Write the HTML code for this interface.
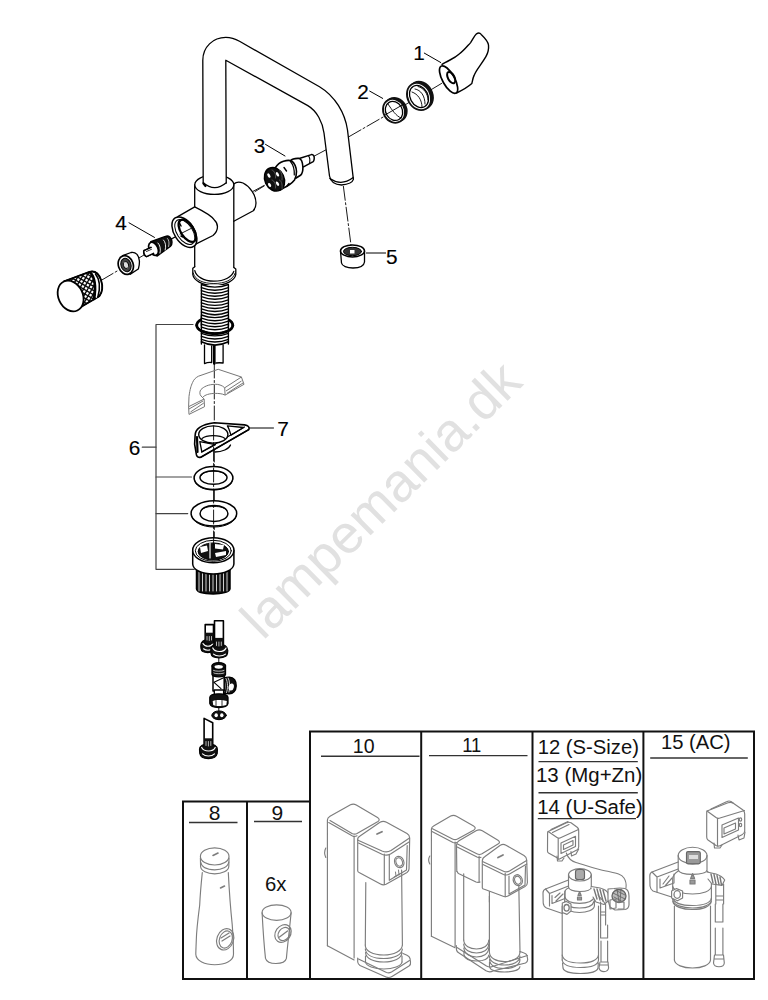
<!DOCTYPE html>
<html><head><meta charset="utf-8">
<style>
html,body{margin:0;padding:0;background:#fff;}
body{width:768px;height:1000px;overflow:hidden;}
svg{display:block;}
text{font-family:"Liberation Sans",sans-serif;}
</style></head><body>
<svg width="768" height="1000" viewBox="0 0 768 1000">
<rect width="768" height="1000" fill="#fff"/>
<text x="0" y="0" font-size="54" fill="#e1e1e1" transform="translate(263,641) rotate(-44.5)">lampemania.dk</text>
<g fill="none" stroke="#000" stroke-width="1.3" stroke-linejoin="round" stroke-linecap="round">
<g stroke-width="0.9" stroke-dasharray="14 2.5 2 2.5"><line x1="255" y1="191.6" x2="264.4" y2="185.8"/><line x1="314.4" y1="156" x2="326" y2="149.8"/><line x1="348.8" y1="136.8" x2="383.7" y2="116.7"/><line x1="404.6" y1="105.2" x2="409.8" y2="102"/><line x1="429.6" y1="90.6" x2="442.6" y2="82.8"/><line x1="253.3" y1="191.2" x2="264" y2="185.5"/><line x1="170" y1="239.4" x2="188" y2="230.5"/><line x1="171.7" y1="239" x2="174.8" y2="237.4"/><line x1="139.4" y1="257.7" x2="144" y2="255"/><line x1="101" y1="280.5" x2="118.7" y2="270.1"/><line x1="343.4" y1="186.4" x2="351" y2="245"/><line x1="214.3" y1="364" x2="214.3" y2="545"/><line x1="218.8" y1="657.3" x2="218.8" y2="662.8"/><line x1="218.8" y1="708" x2="218.8" y2="712"/></g>
<g stroke-width="1"><line x1="424.3" y1="53.1" x2="440.7" y2="62.5"/><line x1="369.7" y1="91.1" x2="382.7" y2="98.4"/><line x1="265.5" y1="144.4" x2="285" y2="156"/><line x1="129" y1="222.8" x2="154.5" y2="237.4"/><line x1="366.3" y1="253" x2="385.6" y2="253"/><line x1="249" y1="428" x2="273.5" y2="428"/><g stroke="#444" stroke-width="1.2"><polyline points="193,324.5 156,324.5 156,569.3 194.3,569.3"/><line x1="156" y1="477" x2="191.5" y2="477"/><line x1="156" y1="513.6" x2="187.7" y2="513.6"/><line x1="142.3" y1="447.2" x2="156" y2="447.2"/></g></g>
<path d="M233.8,184 C236,182 240,181.8 243,183 C250,186.5 256,195 256,203 C256,206.5 255,209 253.3,210.8 L233.8,221.2" fill="#fff"/><path d="M194.7,184.7 L194.7,268 M233.8,184.7 L233.8,268" /><ellipse cx="214.3" cy="184.7" rx="19.5" ry="9.75" fill="#fff"/><path d="M203.2,183 L202.8,60.2 C202.8,47 213,37.4 225.8,37.4 C231,37.4 235.5,39 239.5,41.3 L319.5,86.7 C335,96 345,113 347.5,130 L353.4,179.4 Q352,184 341.5,185 Q331,184.5 329.5,176 L324,133 C322.5,122 317,111 307.8,105.6 L225.8,60.2 L226.25,183 Z" fill="#fff" stroke="none"/><path d="M203.2,183 L202.8,60.2 C202.8,47 213,37.4 225.8,37.4 C231,37.4 235.5,39 239.5,41.3 L319.5,86.7 C335,96 345,113 347.5,130 L353.4,179.4 Q352,184 341.5,185 Q331,184.5 329.5,176 L324,133 C322.5,122 317,111 307.8,105.6 L225.8,60.2 L226.25,183"/><path d="M203.2,182.8 Q214.7,192.5 226.25,182.8" fill="#fff"/><path d="M329.8,178.5 Q341.5,186.5 353.2,177.5" stroke-width="1.2"/><path d="M203.5,183.5 l2,2.5" stroke-width="2.2"/><path d="M177.8,216.6 L194.7,206.9 C203,211 211,215 214.3,219.9 C218,223 219.5,230 213,235.5 L194.7,244.6 Z" fill="#fff" stroke="none"/><path d="M177.8,216.6 L194.7,206.9 C203,211 211,215 214.3,219.9 C218,223 219.5,230 213,235.5 L194.7,244.6"/><ellipse cx="184.4" cy="232.2" rx="10" ry="17" transform="rotate(-33 184.4 232.2)" fill="#fff" stroke-width="1.5"/><ellipse cx="184.8" cy="232" rx="7.8" ry="14" transform="rotate(-33 184.8 232)" stroke-width="1"/><ellipse cx="187.3" cy="230.8" rx="6.4" ry="12.6" transform="rotate(-33 187.3 230.8)" stroke-width="2.3"/><path d="M179.5,223 L181,226 M181,236 l2,1" stroke-width="1.5"/><line x1="180" y1="234" x2="191" y2="228.5" stroke-width="0.9"/><path d="M194.8,266.7 L192.8,268.3 L192.8,274.5 C193.5,280 202,285.5 213.9,285.5 C226,285.5 235,280 235.8,274.5 L235.8,269 L233.8,267.5" fill="#fff"/><path d="M194.8,270.6 C196,276 203,281.2 213.9,281.2 C225,281.2 232,276.5 233.8,271.4"/><path d="M193.2,273 C195,280 203,283.5 213.9,283.5 C225,283.5 233,280 235.2,273" stroke-width="0.9"/><rect x="201.4" y="285" width="27" height="59.5" fill="#fff" stroke="none"/><path d="M201.4,285 L201.4,344 M228.4,285 L228.4,344" stroke-width="1.4"/><path d="M196.7,325.3 A18,8.5 0 0 1 232.8,325.3" stroke-width="2.8"/><rect x="201.6" y="316" width="26.6" height="9" fill="#fff" stroke="none"/><path d="M201.4,316 L201.4,326 M228.4,316 L228.4,326" stroke-width="1.4"/><path d="M201.4,284.5 Q214.9,289.7 228.4,284.5" stroke-width="1.4"/><path d="M201.4,287.6 Q214.9,292.8 228.4,287.6" stroke-width="1.4"/><path d="M201.4,290.6 Q214.9,295.8 228.4,290.6" stroke-width="1.4"/><path d="M201.4,293.7 Q214.9,298.9 228.4,293.7" stroke-width="1.4"/><path d="M201.4,296.7 Q214.9,301.9 228.4,296.7" stroke-width="1.4"/><path d="M201.4,299.8 Q214.9,305.0 228.4,299.8" stroke-width="1.4"/><path d="M201.4,302.8 Q214.9,308.0 228.4,302.8" stroke-width="1.4"/><path d="M201.4,305.9 Q214.9,311.1 228.4,305.9" stroke-width="1.4"/><path d="M201.4,308.9 Q214.9,314.1 228.4,308.9" stroke-width="1.4"/><path d="M201.4,312.0 Q214.9,317.2 228.4,312.0" stroke-width="1.4"/><path d="M201.4,315.0 Q214.9,320.2 228.4,315.0" stroke-width="1.4"/><path d="M201.4,318.1 Q214.9,323.3 228.4,318.1" stroke-width="1.4"/><path d="M201.4,321.1 Q214.9,326.3 228.4,321.1" stroke-width="1.4"/><path d="M201.4,324.2 Q214.9,329.4 228.4,324.2" stroke-width="1.4"/><path d="M201.4,327.2 Q214.9,332.4 228.4,327.2" stroke-width="1.4"/><path d="M201.4,330.3 Q214.9,335.5 228.4,330.3" stroke-width="1.4"/><path d="M201.4,333.3 Q214.9,338.5 228.4,333.3" stroke-width="1.4"/><path d="M201.4,336.4 Q214.9,341.6 228.4,336.4" stroke-width="1.4"/><path d="M201.4,339.4 Q214.9,344.6 228.4,339.4" stroke-width="1.4"/><path d="M196.7,325.3 A18,8.5 0 0 0 232.8,325.3" stroke-width="2.8"/><path d="M201.4,341.8 Q214.9,348.5 228.4,341.8" stroke-width="1.6"/><path d="M198.5,328 A16.5,7 0 0 0 231,328" stroke-width="1"/><path d="M204.5,345 L204.5,363.6 Q208,362 211.7,362.5 M223.1,345 L223.1,363 Q219,362.5 216,363 M211.7,346 L211.7,362" fill="#fff"/><line x1="214.3" y1="346" x2="214.3" y2="363.6" stroke-width="2.6"/></g>
<g fill="none" stroke="#767676" stroke-width="1" stroke-linejoin="round"><path d="M189,414.4 L188.6,406.7 L189,396.4 C190,389 191,386 192.5,382.6 C194,379 196,377.5 198.5,376.2 L218.2,369.3 L241.4,377 L244,384.3 L225.1,395.1 L224.7,387.8 C222,385 218,384.3 215.7,384.3 C208,384.3 203.6,386.9 201,389.5 C199.5,391 199.5,394.5 201,396 L204.1,399 L204.5,406.7 Z"/><path d="M241.4,377 L224.7,387.8 M204.1,399 L188.6,406.7 M225.1,395.1 C222,393.5 218,393.4 215.7,393.4 C209,393.4 205,395 203,397"/><path d="M226,391 L241.5,381 M227,393.3 L243,383 M190.5,412 L203.8,403 M189,409 L203,401"/></g>
<g fill="none" stroke="#000" stroke-width="1.3" stroke-linejoin="round" stroke-linecap="round">
<path d="M442,64.4 C444,63 447,61.5 450,60 C454,58 456.5,56.5 458.9,54.3 C464,50.5 467,46.5 470.6,42.6 C473,39 474.5,35.5 476.5,33.8 C478.5,32.6 480,33 481.2,34.4 C485,38 488,41.5 488.5,45 C489,50 488,53 485.9,56.6 C481,65 476,70 474.1,75.4 C472.5,79 472.5,81 471.8,83.6 C468,87 462,90.5 456.6,93" fill="#fff" stroke-width="1.4"/><ellipse cx="448.6" cy="79.6" rx="6" ry="15.4" transform="rotate(-29 448.6 79.6)" fill="#fff" stroke-width="1.7"/><ellipse cx="451.2" cy="77.6" rx="3.2" ry="6.2" transform="rotate(-29 451.2 77.6)" stroke-width="2"/><ellipse cx="395.8" cy="109.7" rx="10.6" ry="12.3" transform="rotate(-30 395.8 109.7)" fill="#111" stroke="#111" stroke-width="1.6"/><ellipse cx="394" cy="110.9" rx="10.6" ry="12.3" transform="rotate(-30 394 110.9)" fill="#fff" stroke="#111" stroke-width="1.8"/><ellipse cx="394" cy="110.9" rx="8.3" ry="9.9" transform="rotate(-30 394 110.9)" stroke-width="1.3"/><path d="M388,104 C392,110 396,116 401,118 M385,115 L404,104" stroke-width="0.9"/><ellipse cx="421" cy="95.2" rx="11.4" ry="14.2" transform="rotate(-28 421 95.2)" fill="#111" stroke="#111" stroke-width="1.6"/><ellipse cx="419" cy="96.5" rx="11.4" ry="14.2" transform="rotate(-28 419 96.5)" fill="#fff" stroke="#111" stroke-width="1.8"/><ellipse cx="419" cy="96.5" rx="8.9" ry="11.6" transform="rotate(-28 419 96.5)" stroke-width="1.3"/><path d="M415,89 C421,90 425,96 425,104 M412,92 C418,94 422,100 422,107 M418,86.5 C424,88 428,94 428,100" stroke-width="0.9"/><path d="M300,158.2 L311.4,154.6 C313.5,154.2 314.5,156.5 314.2,158.8 C314,160.5 313.6,161.3 313.2,161.6 L303.5,166.8" fill="#fff" stroke-width="1.5"/><path d="M308.5,155.8 C310,157.5 310,161 309.5,163.5" stroke-width="1.1"/><path d="M290.5,160.8 C292,159 296,158.2 299.2,158.4 C301.5,159 302.6,162 302.9,167 C303,171 302,174 300.5,175.3 L295.7,178.2" fill="#fff" stroke-width="1.6"/><path d="M275.5,167.5 C277,165 280.5,162.2 283.5,161.2 C286.5,160.3 290,160.2 291.5,161 C294.5,162.5 296.4,167.5 296.5,171.5 C296.5,175 295.7,178 294.5,180 C292.5,182.5 288.5,185.7 283.5,188 L280,190" fill="#fff" stroke-width="1.6"/><path d="M290.5,161.5 C293,164.5 294.5,170 294.3,175" stroke-width="1.2"/><path d="M284,167.5 l2.5,3.5 M287,186 l2,-2.5" stroke-width="1.4"/><ellipse cx="274.5" cy="179.3" rx="9.6" ry="12.2" transform="rotate(-25 274.5 179.3)" fill="#111" stroke-width="1.5"/><g fill="#fff" stroke="none"><ellipse cx="268.9" cy="175.6" rx="1.3" ry="2.4" transform="rotate(-30 268.9 175.6)"/><ellipse cx="269.6" cy="185" rx="1.3" ry="2.2" transform="rotate(-30 269.6 185)"/><ellipse cx="277.5" cy="174.3" rx="1.3" ry="2.4" transform="rotate(-30 277.5 174.3)"/><ellipse cx="277.5" cy="183.7" rx="1.3" ry="2.4" transform="rotate(-30 277.5 183.7)"/></g><path d="M272,170 C275,171 276,175 275.5,178 M279.5,170.5 C282,172 282.5,177 282,180 M272,180 C275,181 276,185 275.5,188 M279.5,180 C282,181 282.5,186 282,189" stroke="#666" stroke-width="0.8"/><path d="M340.5,251 L341.5,263 C342,266 347,268 353,268 C359,268 364,266 364.5,262 L364.5,251" fill="#fff"/><ellipse cx="352.5" cy="250.9" rx="12" ry="6" fill="#fff" stroke-width="1.5"/><ellipse cx="352.5" cy="251.5" rx="9" ry="4.2" fill="#333" stroke-width="1"/><rect x="350" y="250" width="4.5" height="3.5" fill="#fff" stroke="none"/><path d="M150.8,241.6 L165.4,236.4 C169,235 171.5,238 171.9,241.5 C172.1,244 171.3,245.8 170.6,246.3 L157,256.1 Z" fill="#111" stroke-width="1.4"/><path d="M158,243 C160,245 161,249 160,253 M163.5,240 C165.5,242 166.2,246 165.2,250" stroke="#fff" stroke-width="0.9"/><path d="M167.5,238.5 C169,240 169.5,243 168.6,246.5" stroke="#fff" stroke-width="0.7"/><ellipse cx="153.5" cy="248.8" rx="4.3" ry="7" transform="rotate(-25 153.5 248.8)" fill="#fff" stroke-width="1.7"/><path d="M144,250.6 L151,247.4 M146.5,256.6 L153.5,253.4 M144,250.6 C143,252.5 144.5,256 146.5,256.6" fill="#fff" stroke-width="1.4"/><path d="M144.5,251 L151,248 L153.5,253.4 L146.5,256.5 Z" fill="#fff" stroke="none"/><path d="M144,250.6 L151,247.4 M146.5,256.6 L153.5,253.4 M144,250.6 C143,252.5 144.5,256 146.5,256.6" stroke-width="1.4"/><path d="M146.5,251.5 L151.5,249.3" stroke-width="0.8"/><path d="M122.7,255.6 L131,252.5 C135.5,251.5 139,255 139.4,261 C139.6,266 138.5,268 138.3,269 L130,274.4" fill="#fff"/><ellipse cx="125.8" cy="265" rx="7.4" ry="9.6" transform="rotate(-18 125.8 265)" fill="#fff" stroke-width="1.7"/><ellipse cx="126" cy="265" rx="5" ry="6.8" transform="rotate(-18 126 265)" fill="#444" stroke-width="1"/><ellipse cx="126" cy="265" rx="2.6" ry="3.6" transform="rotate(-18 126 265)" fill="#ddd" stroke-width="0.8"/><g font-size="20.8" fill="#000" stroke="#000" stroke-width="0.15"><text x="413.2" y="59.7">1</text><text x="357.2" y="98.6">2</text><text x="253.8" y="153">3</text><text x="115.3" y="229.9">4</text><text x="386" y="263.6">5</text><text x="128.8" y="454.7">6</text><text x="277.3" y="435.7">7</text></g><path d="M64.1,281.3 L89.5,271.8 C95,270.5 99,274 101,280 C103,286 102.5,292 99.3,296.3 L74.5,310.6 Z" fill="#fff"/><clipPath id="kc"><path d="M64.1,281.3 L89.5,271.8 C92,272 94,276 95,281 C96,287 96,293 93.5,299.5 L74.5,310.6 Z"/></clipPath><g clip-path="url(#kc)"><rect x="55" y="260" width="50" height="60" fill="#0a0a0a" stroke="none"/><rect x="36.64" y="267.79" width="2.3" height="2.3" fill="#fff" stroke="none" transform="rotate(30 37.79 268.94)"/><rect x="37.98" y="272.81" width="2.3" height="2.3" fill="#fff" stroke="none" transform="rotate(30 39.13 273.96)"/><rect x="39.33" y="277.83" width="2.3" height="2.3" fill="#fff" stroke="none" transform="rotate(30 40.48 278.98)"/><rect x="40.68" y="282.86" width="2.3" height="2.3" fill="#fff" stroke="none" transform="rotate(30 41.83 284.01)"/><rect x="42.02" y="287.88" width="2.3" height="2.3" fill="#fff" stroke="none" transform="rotate(30 43.17 289.03)"/><rect x="43.37" y="292.90" width="2.3" height="2.3" fill="#fff" stroke="none" transform="rotate(30 44.52 294.05)"/><rect x="44.71" y="297.93" width="2.3" height="2.3" fill="#fff" stroke="none" transform="rotate(30 45.86 299.08)"/><rect x="46.06" y="302.95" width="2.3" height="2.3" fill="#fff" stroke="none" transform="rotate(30 47.21 304.10)"/><rect x="47.40" y="307.97" width="2.3" height="2.3" fill="#fff" stroke="none" transform="rotate(30 48.55 309.12)"/><rect x="48.75" y="312.99" width="2.3" height="2.3" fill="#fff" stroke="none" transform="rotate(30 49.90 314.14)"/><rect x="50.10" y="318.02" width="2.3" height="2.3" fill="#fff" stroke="none" transform="rotate(30 51.25 319.17)"/><rect x="51.44" y="323.04" width="2.3" height="2.3" fill="#fff" stroke="none" transform="rotate(30 52.59 324.19)"/><rect x="52.79" y="328.06" width="2.3" height="2.3" fill="#fff" stroke="none" transform="rotate(30 53.94 329.21)"/><rect x="39.82" y="269.63" width="2.3" height="2.3" fill="#fff" stroke="none" transform="rotate(30 40.97 270.78)"/><rect x="41.17" y="274.65" width="2.3" height="2.3" fill="#fff" stroke="none" transform="rotate(30 42.32 275.80)"/><rect x="42.51" y="279.67" width="2.3" height="2.3" fill="#fff" stroke="none" transform="rotate(30 43.66 280.82)"/><rect x="43.86" y="284.70" width="2.3" height="2.3" fill="#fff" stroke="none" transform="rotate(30 45.01 285.85)"/><rect x="45.21" y="289.72" width="2.3" height="2.3" fill="#fff" stroke="none" transform="rotate(30 46.36 290.87)"/><rect x="46.55" y="294.74" width="2.3" height="2.3" fill="#fff" stroke="none" transform="rotate(30 47.70 295.89)"/><rect x="47.90" y="299.76" width="2.3" height="2.3" fill="#fff" stroke="none" transform="rotate(30 49.05 300.91)"/><rect x="49.24" y="304.79" width="2.3" height="2.3" fill="#fff" stroke="none" transform="rotate(30 50.39 305.94)"/><rect x="50.59" y="309.81" width="2.3" height="2.3" fill="#fff" stroke="none" transform="rotate(30 51.74 310.96)"/><rect x="51.94" y="314.83" width="2.3" height="2.3" fill="#fff" stroke="none" transform="rotate(30 53.09 315.98)"/><rect x="53.28" y="319.85" width="2.3" height="2.3" fill="#fff" stroke="none" transform="rotate(30 54.43 321.00)"/><rect x="54.63" y="324.88" width="2.3" height="2.3" fill="#fff" stroke="none" transform="rotate(30 55.78 326.03)"/><rect x="41.66" y="266.44" width="2.3" height="2.3" fill="#fff" stroke="none" transform="rotate(30 42.81 267.59)"/><rect x="43.01" y="271.47" width="2.3" height="2.3" fill="#fff" stroke="none" transform="rotate(30 44.16 272.62)"/><rect x="44.35" y="276.49" width="2.3" height="2.3" fill="#fff" stroke="none" transform="rotate(30 45.50 277.64)"/><rect x="45.70" y="281.51" width="2.3" height="2.3" fill="#fff" stroke="none" transform="rotate(30 46.85 282.66)"/><rect x="47.04" y="286.53" width="2.3" height="2.3" fill="#fff" stroke="none" transform="rotate(30 48.19 287.68)"/><rect x="48.39" y="291.56" width="2.3" height="2.3" fill="#fff" stroke="none" transform="rotate(30 49.54 292.71)"/><rect x="49.74" y="296.58" width="2.3" height="2.3" fill="#fff" stroke="none" transform="rotate(30 50.89 297.73)"/><rect x="51.08" y="301.60" width="2.3" height="2.3" fill="#fff" stroke="none" transform="rotate(30 52.23 302.75)"/><rect x="52.43" y="306.62" width="2.3" height="2.3" fill="#fff" stroke="none" transform="rotate(30 53.58 307.77)"/><rect x="53.77" y="311.65" width="2.3" height="2.3" fill="#fff" stroke="none" transform="rotate(30 54.92 312.80)"/><rect x="55.12" y="316.67" width="2.3" height="2.3" fill="#fff" stroke="none" transform="rotate(30 56.27 317.82)"/><rect x="56.47" y="321.69" width="2.3" height="2.3" fill="#fff" stroke="none" transform="rotate(30 57.62 322.84)"/><rect x="57.81" y="326.72" width="2.3" height="2.3" fill="#fff" stroke="none" transform="rotate(30 58.96 327.87)"/><rect x="44.85" y="268.28" width="2.3" height="2.3" fill="#fff" stroke="none" transform="rotate(30 46.00 269.43)"/><rect x="46.19" y="273.30" width="2.3" height="2.3" fill="#fff" stroke="none" transform="rotate(30 47.34 274.45)"/><rect x="47.54" y="278.33" width="2.3" height="2.3" fill="#fff" stroke="none" transform="rotate(30 48.69 279.48)"/><rect x="48.88" y="283.35" width="2.3" height="2.3" fill="#fff" stroke="none" transform="rotate(30 50.03 284.50)"/><rect x="50.23" y="288.37" width="2.3" height="2.3" fill="#fff" stroke="none" transform="rotate(30 51.38 289.52)"/><rect x="51.57" y="293.39" width="2.3" height="2.3" fill="#fff" stroke="none" transform="rotate(30 52.72 294.54)"/><rect x="52.92" y="298.42" width="2.3" height="2.3" fill="#fff" stroke="none" transform="rotate(30 54.07 299.57)"/><rect x="54.27" y="303.44" width="2.3" height="2.3" fill="#fff" stroke="none" transform="rotate(30 55.42 304.59)"/><rect x="55.61" y="308.46" width="2.3" height="2.3" fill="#fff" stroke="none" transform="rotate(30 56.76 309.61)"/><rect x="56.96" y="313.49" width="2.3" height="2.3" fill="#fff" stroke="none" transform="rotate(30 58.11 314.64)"/><rect x="58.30" y="318.51" width="2.3" height="2.3" fill="#fff" stroke="none" transform="rotate(30 59.45 319.66)"/><rect x="59.65" y="323.53" width="2.3" height="2.3" fill="#fff" stroke="none" transform="rotate(30 60.80 324.68)"/><rect x="46.68" y="265.10" width="2.3" height="2.3" fill="#fff" stroke="none" transform="rotate(30 47.83 266.25)"/><rect x="48.03" y="270.12" width="2.3" height="2.3" fill="#fff" stroke="none" transform="rotate(30 49.18 271.27)"/><rect x="49.38" y="275.14" width="2.3" height="2.3" fill="#fff" stroke="none" transform="rotate(30 50.53 276.29)"/><rect x="50.72" y="280.16" width="2.3" height="2.3" fill="#fff" stroke="none" transform="rotate(30 51.87 281.31)"/><rect x="52.07" y="285.19" width="2.3" height="2.3" fill="#fff" stroke="none" transform="rotate(30 53.22 286.34)"/><rect x="53.41" y="290.21" width="2.3" height="2.3" fill="#fff" stroke="none" transform="rotate(30 54.56 291.36)"/><rect x="54.76" y="295.23" width="2.3" height="2.3" fill="#fff" stroke="none" transform="rotate(30 55.91 296.38)"/><rect x="56.10" y="300.26" width="2.3" height="2.3" fill="#fff" stroke="none" transform="rotate(30 57.25 301.41)"/><rect x="57.45" y="305.28" width="2.3" height="2.3" fill="#fff" stroke="none" transform="rotate(30 58.60 306.43)"/><rect x="58.80" y="310.30" width="2.3" height="2.3" fill="#fff" stroke="none" transform="rotate(30 59.95 311.45)"/><rect x="60.14" y="315.32" width="2.3" height="2.3" fill="#fff" stroke="none" transform="rotate(30 61.29 316.47)"/><rect x="61.49" y="320.35" width="2.3" height="2.3" fill="#fff" stroke="none" transform="rotate(30 62.64 321.50)"/><rect x="62.83" y="325.37" width="2.3" height="2.3" fill="#fff" stroke="none" transform="rotate(30 63.98 326.52)"/><rect x="49.87" y="266.94" width="2.3" height="2.3" fill="#fff" stroke="none" transform="rotate(30 51.02 268.09)"/><rect x="51.21" y="271.96" width="2.3" height="2.3" fill="#fff" stroke="none" transform="rotate(30 52.36 273.11)"/><rect x="52.56" y="276.98" width="2.3" height="2.3" fill="#fff" stroke="none" transform="rotate(30 53.71 278.13)"/><rect x="53.91" y="282.00" width="2.3" height="2.3" fill="#fff" stroke="none" transform="rotate(30 55.06 283.15)"/><rect x="55.25" y="287.03" width="2.3" height="2.3" fill="#fff" stroke="none" transform="rotate(30 56.40 288.18)"/><rect x="56.60" y="292.05" width="2.3" height="2.3" fill="#fff" stroke="none" transform="rotate(30 57.75 293.20)"/><rect x="57.94" y="297.07" width="2.3" height="2.3" fill="#fff" stroke="none" transform="rotate(30 59.09 298.22)"/><rect x="59.29" y="302.09" width="2.3" height="2.3" fill="#fff" stroke="none" transform="rotate(30 60.44 303.24)"/><rect x="60.63" y="307.12" width="2.3" height="2.3" fill="#fff" stroke="none" transform="rotate(30 61.78 308.27)"/><rect x="61.98" y="312.14" width="2.3" height="2.3" fill="#fff" stroke="none" transform="rotate(30 63.13 313.29)"/><rect x="63.33" y="317.16" width="2.3" height="2.3" fill="#fff" stroke="none" transform="rotate(30 64.48 318.31)"/><rect x="64.67" y="322.19" width="2.3" height="2.3" fill="#fff" stroke="none" transform="rotate(30 65.82 323.34)"/><rect x="51.71" y="263.75" width="2.3" height="2.3" fill="#fff" stroke="none" transform="rotate(30 52.86 264.90)"/><rect x="53.05" y="268.77" width="2.3" height="2.3" fill="#fff" stroke="none" transform="rotate(30 54.20 269.92)"/><rect x="54.40" y="273.80" width="2.3" height="2.3" fill="#fff" stroke="none" transform="rotate(30 55.55 274.95)"/><rect x="55.74" y="278.82" width="2.3" height="2.3" fill="#fff" stroke="none" transform="rotate(30 56.89 279.97)"/><rect x="57.09" y="283.84" width="2.3" height="2.3" fill="#fff" stroke="none" transform="rotate(30 58.24 284.99)"/><rect x="58.44" y="288.86" width="2.3" height="2.3" fill="#fff" stroke="none" transform="rotate(30 59.59 290.01)"/><rect x="59.78" y="293.89" width="2.3" height="2.3" fill="#fff" stroke="none" transform="rotate(30 60.93 295.04)"/><rect x="61.13" y="298.91" width="2.3" height="2.3" fill="#fff" stroke="none" transform="rotate(30 62.28 300.06)"/><rect x="62.47" y="303.93" width="2.3" height="2.3" fill="#fff" stroke="none" transform="rotate(30 63.62 305.08)"/><rect x="63.82" y="308.96" width="2.3" height="2.3" fill="#fff" stroke="none" transform="rotate(30 64.97 310.11)"/><rect x="65.16" y="313.98" width="2.3" height="2.3" fill="#fff" stroke="none" transform="rotate(30 66.31 315.13)"/><rect x="66.51" y="319.00" width="2.3" height="2.3" fill="#fff" stroke="none" transform="rotate(30 67.66 320.15)"/><rect x="67.86" y="324.02" width="2.3" height="2.3" fill="#fff" stroke="none" transform="rotate(30 69.01 325.17)"/><rect x="54.89" y="265.59" width="2.3" height="2.3" fill="#fff" stroke="none" transform="rotate(30 56.04 266.74)"/><rect x="56.24" y="270.61" width="2.3" height="2.3" fill="#fff" stroke="none" transform="rotate(30 57.39 271.76)"/><rect x="57.58" y="275.63" width="2.3" height="2.3" fill="#fff" stroke="none" transform="rotate(30 58.73 276.78)"/><rect x="58.93" y="280.66" width="2.3" height="2.3" fill="#fff" stroke="none" transform="rotate(30 60.08 281.81)"/><rect x="60.27" y="285.68" width="2.3" height="2.3" fill="#fff" stroke="none" transform="rotate(30 61.42 286.83)"/><rect x="61.62" y="290.70" width="2.3" height="2.3" fill="#fff" stroke="none" transform="rotate(30 62.77 291.85)"/><rect x="62.97" y="295.73" width="2.3" height="2.3" fill="#fff" stroke="none" transform="rotate(30 64.12 296.88)"/><rect x="64.31" y="300.75" width="2.3" height="2.3" fill="#fff" stroke="none" transform="rotate(30 65.46 301.90)"/><rect x="65.66" y="305.77" width="2.3" height="2.3" fill="#fff" stroke="none" transform="rotate(30 66.81 306.92)"/><rect x="67.00" y="310.79" width="2.3" height="2.3" fill="#fff" stroke="none" transform="rotate(30 68.15 311.94)"/><rect x="68.35" y="315.82" width="2.3" height="2.3" fill="#fff" stroke="none" transform="rotate(30 69.50 316.97)"/><rect x="69.70" y="320.84" width="2.3" height="2.3" fill="#fff" stroke="none" transform="rotate(30 70.85 321.99)"/><rect x="56.73" y="262.40" width="2.3" height="2.3" fill="#fff" stroke="none" transform="rotate(30 57.88 263.55)"/><rect x="58.08" y="267.43" width="2.3" height="2.3" fill="#fff" stroke="none" transform="rotate(30 59.23 268.58)"/><rect x="59.42" y="272.45" width="2.3" height="2.3" fill="#fff" stroke="none" transform="rotate(30 60.57 273.60)"/><rect x="60.77" y="277.47" width="2.3" height="2.3" fill="#fff" stroke="none" transform="rotate(30 61.92 278.62)"/><rect x="62.11" y="282.50" width="2.3" height="2.3" fill="#fff" stroke="none" transform="rotate(30 63.26 283.65)"/><rect x="63.46" y="287.52" width="2.3" height="2.3" fill="#fff" stroke="none" transform="rotate(30 64.61 288.67)"/><rect x="64.80" y="292.54" width="2.3" height="2.3" fill="#fff" stroke="none" transform="rotate(30 65.95 293.69)"/><rect x="66.15" y="297.56" width="2.3" height="2.3" fill="#fff" stroke="none" transform="rotate(30 67.30 298.71)"/><rect x="67.50" y="302.59" width="2.3" height="2.3" fill="#fff" stroke="none" transform="rotate(30 68.65 303.74)"/><rect x="68.84" y="307.61" width="2.3" height="2.3" fill="#fff" stroke="none" transform="rotate(30 69.99 308.76)"/><rect x="70.19" y="312.63" width="2.3" height="2.3" fill="#fff" stroke="none" transform="rotate(30 71.34 313.78)"/><rect x="71.53" y="317.66" width="2.3" height="2.3" fill="#fff" stroke="none" transform="rotate(30 72.68 318.81)"/><rect x="72.88" y="322.68" width="2.3" height="2.3" fill="#fff" stroke="none" transform="rotate(30 74.03 323.83)"/><rect x="59.91" y="264.24" width="2.3" height="2.3" fill="#fff" stroke="none" transform="rotate(30 61.06 265.39)"/><rect x="61.26" y="269.27" width="2.3" height="2.3" fill="#fff" stroke="none" transform="rotate(30 62.41 270.42)"/><rect x="62.61" y="274.29" width="2.3" height="2.3" fill="#fff" stroke="none" transform="rotate(30 63.76 275.44)"/><rect x="63.95" y="279.31" width="2.3" height="2.3" fill="#fff" stroke="none" transform="rotate(30 65.10 280.46)"/><rect x="65.30" y="284.33" width="2.3" height="2.3" fill="#fff" stroke="none" transform="rotate(30 66.45 285.48)"/><rect x="66.64" y="289.36" width="2.3" height="2.3" fill="#fff" stroke="none" transform="rotate(30 67.79 290.51)"/><rect x="67.99" y="294.38" width="2.3" height="2.3" fill="#fff" stroke="none" transform="rotate(30 69.14 295.53)"/><rect x="69.33" y="299.40" width="2.3" height="2.3" fill="#fff" stroke="none" transform="rotate(30 70.48 300.55)"/><rect x="70.68" y="304.43" width="2.3" height="2.3" fill="#fff" stroke="none" transform="rotate(30 71.83 305.58)"/><rect x="72.03" y="309.45" width="2.3" height="2.3" fill="#fff" stroke="none" transform="rotate(30 73.18 310.60)"/><rect x="73.37" y="314.47" width="2.3" height="2.3" fill="#fff" stroke="none" transform="rotate(30 74.52 315.62)"/><rect x="74.72" y="319.49" width="2.3" height="2.3" fill="#fff" stroke="none" transform="rotate(30 75.87 320.64)"/><rect x="61.75" y="261.06" width="2.3" height="2.3" fill="#fff" stroke="none" transform="rotate(30 62.90 262.21)"/><rect x="63.10" y="266.08" width="2.3" height="2.3" fill="#fff" stroke="none" transform="rotate(30 64.25 267.23)"/><rect x="64.44" y="271.10" width="2.3" height="2.3" fill="#fff" stroke="none" transform="rotate(30 65.59 272.25)"/><rect x="65.79" y="276.13" width="2.3" height="2.3" fill="#fff" stroke="none" transform="rotate(30 66.94 277.28)"/><rect x="67.14" y="281.15" width="2.3" height="2.3" fill="#fff" stroke="none" transform="rotate(30 68.29 282.30)"/><rect x="68.48" y="286.17" width="2.3" height="2.3" fill="#fff" stroke="none" transform="rotate(30 69.63 287.32)"/><rect x="69.83" y="291.20" width="2.3" height="2.3" fill="#fff" stroke="none" transform="rotate(30 70.98 292.35)"/><rect x="71.17" y="296.22" width="2.3" height="2.3" fill="#fff" stroke="none" transform="rotate(30 72.32 297.37)"/><rect x="72.52" y="301.24" width="2.3" height="2.3" fill="#fff" stroke="none" transform="rotate(30 73.67 302.39)"/><rect x="73.86" y="306.26" width="2.3" height="2.3" fill="#fff" stroke="none" transform="rotate(30 75.01 307.41)"/><rect x="75.21" y="311.29" width="2.3" height="2.3" fill="#fff" stroke="none" transform="rotate(30 76.36 312.44)"/><rect x="76.56" y="316.31" width="2.3" height="2.3" fill="#fff" stroke="none" transform="rotate(30 77.71 317.46)"/><rect x="77.90" y="321.33" width="2.3" height="2.3" fill="#fff" stroke="none" transform="rotate(30 79.05 322.48)"/><rect x="64.94" y="262.90" width="2.3" height="2.3" fill="#fff" stroke="none" transform="rotate(30 66.09 264.05)"/><rect x="66.28" y="267.92" width="2.3" height="2.3" fill="#fff" stroke="none" transform="rotate(30 67.43 269.07)"/><rect x="67.63" y="272.94" width="2.3" height="2.3" fill="#fff" stroke="none" transform="rotate(30 68.78 274.09)"/><rect x="68.97" y="277.97" width="2.3" height="2.3" fill="#fff" stroke="none" transform="rotate(30 70.12 279.12)"/><rect x="70.32" y="282.99" width="2.3" height="2.3" fill="#fff" stroke="none" transform="rotate(30 71.47 284.14)"/><rect x="71.67" y="288.01" width="2.3" height="2.3" fill="#fff" stroke="none" transform="rotate(30 72.82 289.16)"/><rect x="73.01" y="293.03" width="2.3" height="2.3" fill="#fff" stroke="none" transform="rotate(30 74.16 294.18)"/><rect x="74.36" y="298.06" width="2.3" height="2.3" fill="#fff" stroke="none" transform="rotate(30 75.51 299.21)"/><rect x="75.70" y="303.08" width="2.3" height="2.3" fill="#fff" stroke="none" transform="rotate(30 76.85 304.23)"/><rect x="77.05" y="308.10" width="2.3" height="2.3" fill="#fff" stroke="none" transform="rotate(30 78.20 309.25)"/><rect x="78.39" y="313.13" width="2.3" height="2.3" fill="#fff" stroke="none" transform="rotate(30 79.54 314.28)"/><rect x="79.74" y="318.15" width="2.3" height="2.3" fill="#fff" stroke="none" transform="rotate(30 80.89 319.30)"/><rect x="66.77" y="259.71" width="2.3" height="2.3" fill="#fff" stroke="none" transform="rotate(30 67.92 260.86)"/><rect x="68.12" y="264.74" width="2.3" height="2.3" fill="#fff" stroke="none" transform="rotate(30 69.27 265.89)"/><rect x="69.47" y="269.76" width="2.3" height="2.3" fill="#fff" stroke="none" transform="rotate(30 70.62 270.91)"/><rect x="70.81" y="274.78" width="2.3" height="2.3" fill="#fff" stroke="none" transform="rotate(30 71.96 275.93)"/><rect x="72.16" y="279.80" width="2.3" height="2.3" fill="#fff" stroke="none" transform="rotate(30 73.31 280.95)"/><rect x="73.50" y="284.83" width="2.3" height="2.3" fill="#fff" stroke="none" transform="rotate(30 74.65 285.98)"/><rect x="74.85" y="289.85" width="2.3" height="2.3" fill="#fff" stroke="none" transform="rotate(30 76.00 291.00)"/><rect x="76.20" y="294.87" width="2.3" height="2.3" fill="#fff" stroke="none" transform="rotate(30 77.35 296.02)"/><rect x="77.54" y="299.90" width="2.3" height="2.3" fill="#fff" stroke="none" transform="rotate(30 78.69 301.05)"/><rect x="78.89" y="304.92" width="2.3" height="2.3" fill="#fff" stroke="none" transform="rotate(30 80.04 306.07)"/><rect x="80.23" y="309.94" width="2.3" height="2.3" fill="#fff" stroke="none" transform="rotate(30 81.38 311.09)"/><rect x="81.58" y="314.96" width="2.3" height="2.3" fill="#fff" stroke="none" transform="rotate(30 82.73 316.11)"/><rect x="82.93" y="319.99" width="2.3" height="2.3" fill="#fff" stroke="none" transform="rotate(30 84.08 321.14)"/><rect x="69.96" y="261.55" width="2.3" height="2.3" fill="#fff" stroke="none" transform="rotate(30 71.11 262.70)"/><rect x="71.31" y="266.57" width="2.3" height="2.3" fill="#fff" stroke="none" transform="rotate(30 72.46 267.72)"/><rect x="72.65" y="271.60" width="2.3" height="2.3" fill="#fff" stroke="none" transform="rotate(30 73.80 272.75)"/><rect x="74.00" y="276.62" width="2.3" height="2.3" fill="#fff" stroke="none" transform="rotate(30 75.15 277.77)"/><rect x="75.34" y="281.64" width="2.3" height="2.3" fill="#fff" stroke="none" transform="rotate(30 76.49 282.79)"/><rect x="76.69" y="286.67" width="2.3" height="2.3" fill="#fff" stroke="none" transform="rotate(30 77.84 287.82)"/><rect x="78.03" y="291.69" width="2.3" height="2.3" fill="#fff" stroke="none" transform="rotate(30 79.18 292.84)"/><rect x="79.38" y="296.71" width="2.3" height="2.3" fill="#fff" stroke="none" transform="rotate(30 80.53 297.86)"/><rect x="80.73" y="301.73" width="2.3" height="2.3" fill="#fff" stroke="none" transform="rotate(30 81.88 302.88)"/><rect x="82.07" y="306.76" width="2.3" height="2.3" fill="#fff" stroke="none" transform="rotate(30 83.22 307.91)"/><rect x="83.42" y="311.78" width="2.3" height="2.3" fill="#fff" stroke="none" transform="rotate(30 84.57 312.93)"/><rect x="84.76" y="316.80" width="2.3" height="2.3" fill="#fff" stroke="none" transform="rotate(30 85.91 317.95)"/><rect x="71.80" y="258.37" width="2.3" height="2.3" fill="#fff" stroke="none" transform="rotate(30 72.95 259.52)"/><rect x="73.14" y="263.39" width="2.3" height="2.3" fill="#fff" stroke="none" transform="rotate(30 74.29 264.54)"/><rect x="74.49" y="268.41" width="2.3" height="2.3" fill="#fff" stroke="none" transform="rotate(30 75.64 269.56)"/><rect x="75.84" y="273.44" width="2.3" height="2.3" fill="#fff" stroke="none" transform="rotate(30 76.99 274.59)"/><rect x="77.18" y="278.46" width="2.3" height="2.3" fill="#fff" stroke="none" transform="rotate(30 78.33 279.61)"/><rect x="78.53" y="283.48" width="2.3" height="2.3" fill="#fff" stroke="none" transform="rotate(30 79.68 284.63)"/><rect x="79.87" y="288.50" width="2.3" height="2.3" fill="#fff" stroke="none" transform="rotate(30 81.02 289.65)"/><rect x="81.22" y="293.53" width="2.3" height="2.3" fill="#fff" stroke="none" transform="rotate(30 82.37 294.68)"/><rect x="82.56" y="298.55" width="2.3" height="2.3" fill="#fff" stroke="none" transform="rotate(30 83.71 299.70)"/><rect x="83.91" y="303.57" width="2.3" height="2.3" fill="#fff" stroke="none" transform="rotate(30 85.06 304.72)"/><rect x="85.26" y="308.60" width="2.3" height="2.3" fill="#fff" stroke="none" transform="rotate(30 86.41 309.75)"/><rect x="86.60" y="313.62" width="2.3" height="2.3" fill="#fff" stroke="none" transform="rotate(30 87.75 314.77)"/><rect x="87.95" y="318.64" width="2.3" height="2.3" fill="#fff" stroke="none" transform="rotate(30 89.10 319.79)"/><rect x="74.98" y="260.21" width="2.3" height="2.3" fill="#fff" stroke="none" transform="rotate(30 76.13 261.36)"/><rect x="76.33" y="265.23" width="2.3" height="2.3" fill="#fff" stroke="none" transform="rotate(30 77.48 266.38)"/><rect x="77.67" y="270.25" width="2.3" height="2.3" fill="#fff" stroke="none" transform="rotate(30 78.82 271.40)"/><rect x="79.02" y="275.27" width="2.3" height="2.3" fill="#fff" stroke="none" transform="rotate(30 80.17 276.42)"/><rect x="80.37" y="280.30" width="2.3" height="2.3" fill="#fff" stroke="none" transform="rotate(30 81.52 281.45)"/><rect x="81.71" y="285.32" width="2.3" height="2.3" fill="#fff" stroke="none" transform="rotate(30 82.86 286.47)"/><rect x="83.06" y="290.34" width="2.3" height="2.3" fill="#fff" stroke="none" transform="rotate(30 84.21 291.49)"/><rect x="84.40" y="295.37" width="2.3" height="2.3" fill="#fff" stroke="none" transform="rotate(30 85.55 296.52)"/><rect x="85.75" y="300.39" width="2.3" height="2.3" fill="#fff" stroke="none" transform="rotate(30 86.90 301.54)"/><rect x="87.09" y="305.41" width="2.3" height="2.3" fill="#fff" stroke="none" transform="rotate(30 88.24 306.56)"/><rect x="88.44" y="310.43" width="2.3" height="2.3" fill="#fff" stroke="none" transform="rotate(30 89.59 311.58)"/><rect x="89.79" y="315.46" width="2.3" height="2.3" fill="#fff" stroke="none" transform="rotate(30 90.94 316.61)"/><rect x="76.82" y="257.02" width="2.3" height="2.3" fill="#fff" stroke="none" transform="rotate(30 77.97 258.17)"/><rect x="78.17" y="262.04" width="2.3" height="2.3" fill="#fff" stroke="none" transform="rotate(30 79.32 263.19)"/><rect x="79.51" y="267.07" width="2.3" height="2.3" fill="#fff" stroke="none" transform="rotate(30 80.66 268.22)"/><rect x="80.86" y="272.09" width="2.3" height="2.3" fill="#fff" stroke="none" transform="rotate(30 82.01 273.24)"/><rect x="82.20" y="277.11" width="2.3" height="2.3" fill="#fff" stroke="none" transform="rotate(30 83.35 278.26)"/><rect x="83.55" y="282.14" width="2.3" height="2.3" fill="#fff" stroke="none" transform="rotate(30 84.70 283.29)"/><rect x="84.90" y="287.16" width="2.3" height="2.3" fill="#fff" stroke="none" transform="rotate(30 86.05 288.31)"/><rect x="86.24" y="292.18" width="2.3" height="2.3" fill="#fff" stroke="none" transform="rotate(30 87.39 293.33)"/><rect x="87.59" y="297.20" width="2.3" height="2.3" fill="#fff" stroke="none" transform="rotate(30 88.74 298.35)"/><rect x="88.93" y="302.23" width="2.3" height="2.3" fill="#fff" stroke="none" transform="rotate(30 90.08 303.38)"/><rect x="90.28" y="307.25" width="2.3" height="2.3" fill="#fff" stroke="none" transform="rotate(30 91.43 308.40)"/><rect x="91.62" y="312.27" width="2.3" height="2.3" fill="#fff" stroke="none" transform="rotate(30 92.77 313.42)"/><rect x="92.97" y="317.30" width="2.3" height="2.3" fill="#fff" stroke="none" transform="rotate(30 94.12 318.45)"/><rect x="80.00" y="258.86" width="2.3" height="2.3" fill="#fff" stroke="none" transform="rotate(30 81.15 260.01)"/><rect x="81.35" y="263.88" width="2.3" height="2.3" fill="#fff" stroke="none" transform="rotate(30 82.50 265.03)"/><rect x="82.70" y="268.91" width="2.3" height="2.3" fill="#fff" stroke="none" transform="rotate(30 83.85 270.06)"/><rect x="84.04" y="273.93" width="2.3" height="2.3" fill="#fff" stroke="none" transform="rotate(30 85.19 275.08)"/><rect x="85.39" y="278.95" width="2.3" height="2.3" fill="#fff" stroke="none" transform="rotate(30 86.54 280.10)"/><rect x="86.73" y="283.97" width="2.3" height="2.3" fill="#fff" stroke="none" transform="rotate(30 87.88 285.12)"/><rect x="88.08" y="289.00" width="2.3" height="2.3" fill="#fff" stroke="none" transform="rotate(30 89.23 290.15)"/><rect x="89.43" y="294.02" width="2.3" height="2.3" fill="#fff" stroke="none" transform="rotate(30 90.58 295.17)"/><rect x="90.77" y="299.04" width="2.3" height="2.3" fill="#fff" stroke="none" transform="rotate(30 91.92 300.19)"/><rect x="92.12" y="304.07" width="2.3" height="2.3" fill="#fff" stroke="none" transform="rotate(30 93.27 305.22)"/><rect x="93.46" y="309.09" width="2.3" height="2.3" fill="#fff" stroke="none" transform="rotate(30 94.61 310.24)"/><rect x="94.81" y="314.11" width="2.3" height="2.3" fill="#fff" stroke="none" transform="rotate(30 95.96 315.26)"/><rect x="81.84" y="255.68" width="2.3" height="2.3" fill="#fff" stroke="none" transform="rotate(30 82.99 256.83)"/><rect x="83.19" y="260.70" width="2.3" height="2.3" fill="#fff" stroke="none" transform="rotate(30 84.34 261.85)"/><rect x="84.54" y="265.72" width="2.3" height="2.3" fill="#fff" stroke="none" transform="rotate(30 85.69 266.87)"/><rect x="85.88" y="270.74" width="2.3" height="2.3" fill="#fff" stroke="none" transform="rotate(30 87.03 271.89)"/><rect x="87.23" y="275.77" width="2.3" height="2.3" fill="#fff" stroke="none" transform="rotate(30 88.38 276.92)"/><rect x="88.57" y="280.79" width="2.3" height="2.3" fill="#fff" stroke="none" transform="rotate(30 89.72 281.94)"/><rect x="89.92" y="285.81" width="2.3" height="2.3" fill="#fff" stroke="none" transform="rotate(30 91.07 286.96)"/><rect x="91.26" y="290.84" width="2.3" height="2.3" fill="#fff" stroke="none" transform="rotate(30 92.41 291.99)"/><rect x="92.61" y="295.86" width="2.3" height="2.3" fill="#fff" stroke="none" transform="rotate(30 93.76 297.01)"/><rect x="93.96" y="300.88" width="2.3" height="2.3" fill="#fff" stroke="none" transform="rotate(30 95.11 302.03)"/><rect x="95.30" y="305.90" width="2.3" height="2.3" fill="#fff" stroke="none" transform="rotate(30 96.45 307.05)"/><rect x="96.65" y="310.93" width="2.3" height="2.3" fill="#fff" stroke="none" transform="rotate(30 97.80 312.08)"/><rect x="97.99" y="315.95" width="2.3" height="2.3" fill="#fff" stroke="none" transform="rotate(30 99.14 317.10)"/><rect x="85.03" y="257.51" width="2.3" height="2.3" fill="#fff" stroke="none" transform="rotate(30 86.18 258.66)"/><rect x="86.37" y="262.54" width="2.3" height="2.3" fill="#fff" stroke="none" transform="rotate(30 87.52 263.69)"/><rect x="87.72" y="267.56" width="2.3" height="2.3" fill="#fff" stroke="none" transform="rotate(30 88.87 268.71)"/><rect x="89.07" y="272.58" width="2.3" height="2.3" fill="#fff" stroke="none" transform="rotate(30 90.22 273.73)"/><rect x="90.41" y="277.61" width="2.3" height="2.3" fill="#fff" stroke="none" transform="rotate(30 91.56 278.76)"/><rect x="91.76" y="282.63" width="2.3" height="2.3" fill="#fff" stroke="none" transform="rotate(30 92.91 283.78)"/><rect x="93.10" y="287.65" width="2.3" height="2.3" fill="#fff" stroke="none" transform="rotate(30 94.25 288.80)"/><rect x="94.45" y="292.67" width="2.3" height="2.3" fill="#fff" stroke="none" transform="rotate(30 95.60 293.82)"/><rect x="95.79" y="297.70" width="2.3" height="2.3" fill="#fff" stroke="none" transform="rotate(30 96.94 298.85)"/><rect x="97.14" y="302.72" width="2.3" height="2.3" fill="#fff" stroke="none" transform="rotate(30 98.29 303.87)"/><rect x="98.49" y="307.74" width="2.3" height="2.3" fill="#fff" stroke="none" transform="rotate(30 99.64 308.89)"/><rect x="99.83" y="312.76" width="2.3" height="2.3" fill="#fff" stroke="none" transform="rotate(30 100.98 313.91)"/><rect x="86.87" y="254.33" width="2.3" height="2.3" fill="#fff" stroke="none" transform="rotate(30 88.02 255.48)"/><rect x="88.21" y="259.35" width="2.3" height="2.3" fill="#fff" stroke="none" transform="rotate(30 89.36 260.50)"/><rect x="89.56" y="264.38" width="2.3" height="2.3" fill="#fff" stroke="none" transform="rotate(30 90.71 265.53)"/><rect x="90.90" y="269.40" width="2.3" height="2.3" fill="#fff" stroke="none" transform="rotate(30 92.05 270.55)"/><rect x="92.25" y="274.42" width="2.3" height="2.3" fill="#fff" stroke="none" transform="rotate(30 93.40 275.57)"/><rect x="93.60" y="279.44" width="2.3" height="2.3" fill="#fff" stroke="none" transform="rotate(30 94.75 280.59)"/><rect x="94.94" y="284.47" width="2.3" height="2.3" fill="#fff" stroke="none" transform="rotate(30 96.09 285.62)"/><rect x="96.29" y="289.49" width="2.3" height="2.3" fill="#fff" stroke="none" transform="rotate(30 97.44 290.64)"/><rect x="97.63" y="294.51" width="2.3" height="2.3" fill="#fff" stroke="none" transform="rotate(30 98.78 295.66)"/><rect x="98.98" y="299.54" width="2.3" height="2.3" fill="#fff" stroke="none" transform="rotate(30 100.13 300.69)"/><rect x="100.32" y="304.56" width="2.3" height="2.3" fill="#fff" stroke="none" transform="rotate(30 101.47 305.71)"/><rect x="101.67" y="309.58" width="2.3" height="2.3" fill="#fff" stroke="none" transform="rotate(30 102.82 310.73)"/><rect x="103.02" y="314.60" width="2.3" height="2.3" fill="#fff" stroke="none" transform="rotate(30 104.17 315.75)"/><rect x="90.05" y="256.17" width="2.3" height="2.3" fill="#fff" stroke="none" transform="rotate(30 91.20 257.32)"/><rect x="91.40" y="261.19" width="2.3" height="2.3" fill="#fff" stroke="none" transform="rotate(30 92.55 262.34)"/><rect x="92.74" y="266.21" width="2.3" height="2.3" fill="#fff" stroke="none" transform="rotate(30 93.89 267.36)"/><rect x="94.09" y="271.24" width="2.3" height="2.3" fill="#fff" stroke="none" transform="rotate(30 95.24 272.39)"/><rect x="95.43" y="276.26" width="2.3" height="2.3" fill="#fff" stroke="none" transform="rotate(30 96.58 277.41)"/><rect x="96.78" y="281.28" width="2.3" height="2.3" fill="#fff" stroke="none" transform="rotate(30 97.93 282.43)"/><rect x="98.13" y="286.31" width="2.3" height="2.3" fill="#fff" stroke="none" transform="rotate(30 99.28 287.46)"/><rect x="99.47" y="291.33" width="2.3" height="2.3" fill="#fff" stroke="none" transform="rotate(30 100.62 292.48)"/><rect x="100.82" y="296.35" width="2.3" height="2.3" fill="#fff" stroke="none" transform="rotate(30 101.97 297.50)"/><rect x="102.16" y="301.37" width="2.3" height="2.3" fill="#fff" stroke="none" transform="rotate(30 103.31 302.52)"/><rect x="103.51" y="306.40" width="2.3" height="2.3" fill="#fff" stroke="none" transform="rotate(30 104.66 307.55)"/><rect x="104.85" y="311.42" width="2.3" height="2.3" fill="#fff" stroke="none" transform="rotate(30 106.00 312.57)"/><rect x="91.89" y="252.98" width="2.3" height="2.3" fill="#fff" stroke="none" transform="rotate(30 93.04 254.13)"/><rect x="93.23" y="258.01" width="2.3" height="2.3" fill="#fff" stroke="none" transform="rotate(30 94.38 259.16)"/><rect x="94.58" y="263.03" width="2.3" height="2.3" fill="#fff" stroke="none" transform="rotate(30 95.73 264.18)"/><rect x="95.93" y="268.05" width="2.3" height="2.3" fill="#fff" stroke="none" transform="rotate(30 97.08 269.20)"/><rect x="97.27" y="273.08" width="2.3" height="2.3" fill="#fff" stroke="none" transform="rotate(30 98.42 274.23)"/><rect x="98.62" y="278.10" width="2.3" height="2.3" fill="#fff" stroke="none" transform="rotate(30 99.77 279.25)"/><rect x="99.96" y="283.12" width="2.3" height="2.3" fill="#fff" stroke="none" transform="rotate(30 101.11 284.27)"/><rect x="101.31" y="288.14" width="2.3" height="2.3" fill="#fff" stroke="none" transform="rotate(30 102.46 289.29)"/><rect x="102.66" y="293.17" width="2.3" height="2.3" fill="#fff" stroke="none" transform="rotate(30 103.81 294.32)"/><rect x="104.00" y="298.19" width="2.3" height="2.3" fill="#fff" stroke="none" transform="rotate(30 105.15 299.34)"/><rect x="105.35" y="303.21" width="2.3" height="2.3" fill="#fff" stroke="none" transform="rotate(30 106.50 304.36)"/><rect x="106.69" y="308.23" width="2.3" height="2.3" fill="#fff" stroke="none" transform="rotate(30 107.84 309.38)"/><rect x="108.04" y="313.26" width="2.3" height="2.3" fill="#fff" stroke="none" transform="rotate(30 109.19 314.41)"/><rect x="95.07" y="254.82" width="2.3" height="2.3" fill="#fff" stroke="none" transform="rotate(30 96.22 255.97)"/><rect x="96.42" y="259.85" width="2.3" height="2.3" fill="#fff" stroke="none" transform="rotate(30 97.57 261.00)"/><rect x="97.76" y="264.87" width="2.3" height="2.3" fill="#fff" stroke="none" transform="rotate(30 98.91 266.02)"/><rect x="99.11" y="269.89" width="2.3" height="2.3" fill="#fff" stroke="none" transform="rotate(30 100.26 271.04)"/><rect x="100.46" y="274.91" width="2.3" height="2.3" fill="#fff" stroke="none" transform="rotate(30 101.61 276.06)"/><rect x="101.80" y="279.94" width="2.3" height="2.3" fill="#fff" stroke="none" transform="rotate(30 102.95 281.09)"/><rect x="103.15" y="284.96" width="2.3" height="2.3" fill="#fff" stroke="none" transform="rotate(30 104.30 286.11)"/><rect x="104.49" y="289.98" width="2.3" height="2.3" fill="#fff" stroke="none" transform="rotate(30 105.64 291.13)"/><rect x="105.84" y="295.00" width="2.3" height="2.3" fill="#fff" stroke="none" transform="rotate(30 106.99 296.15)"/><rect x="107.19" y="300.03" width="2.3" height="2.3" fill="#fff" stroke="none" transform="rotate(30 108.34 301.18)"/><rect x="108.53" y="305.05" width="2.3" height="2.3" fill="#fff" stroke="none" transform="rotate(30 109.68 306.20)"/><rect x="109.88" y="310.07" width="2.3" height="2.3" fill="#fff" stroke="none" transform="rotate(30 111.03 311.22)"/><rect x="96.91" y="251.64" width="2.3" height="2.3" fill="#fff" stroke="none" transform="rotate(30 98.06 252.79)"/><rect x="98.26" y="256.66" width="2.3" height="2.3" fill="#fff" stroke="none" transform="rotate(30 99.41 257.81)"/><rect x="99.60" y="261.68" width="2.3" height="2.3" fill="#fff" stroke="none" transform="rotate(30 100.75 262.83)"/><rect x="100.95" y="266.71" width="2.3" height="2.3" fill="#fff" stroke="none" transform="rotate(30 102.10 267.86)"/><rect x="102.30" y="271.73" width="2.3" height="2.3" fill="#fff" stroke="none" transform="rotate(30 103.45 272.88)"/><rect x="103.64" y="276.75" width="2.3" height="2.3" fill="#fff" stroke="none" transform="rotate(30 104.79 277.90)"/><rect x="104.99" y="281.77" width="2.3" height="2.3" fill="#fff" stroke="none" transform="rotate(30 106.14 282.92)"/><rect x="106.33" y="286.80" width="2.3" height="2.3" fill="#fff" stroke="none" transform="rotate(30 107.48 287.95)"/><rect x="107.68" y="291.82" width="2.3" height="2.3" fill="#fff" stroke="none" transform="rotate(30 108.83 292.97)"/><rect x="109.02" y="296.84" width="2.3" height="2.3" fill="#fff" stroke="none" transform="rotate(30 110.17 297.99)"/><rect x="110.37" y="301.87" width="2.3" height="2.3" fill="#fff" stroke="none" transform="rotate(30 111.52 303.02)"/><rect x="111.72" y="306.89" width="2.3" height="2.3" fill="#fff" stroke="none" transform="rotate(30 112.87 308.04)"/><rect x="113.06" y="311.91" width="2.3" height="2.3" fill="#fff" stroke="none" transform="rotate(30 114.21 313.06)"/></g><path d="M64.1,281.3 L89.5,271.8 C95,270.5 99,274 101,280 C103,286 102.5,292 99.3,296.3 L74.5,310.6" stroke-width="1.8"/><path d="M90,272.5 C94.5,276 96.5,287 94,299" stroke-width="2.6"/><path d="M93.2,273 C97.5,277 99,287 96.5,297.5" stroke-width="0.9" stroke="#fff"/><path d="M95.5,274 C99.5,279 100.5,287 98,296.5" stroke-width="1.6"/><ellipse cx="70.6" cy="296" rx="12.2" ry="16" transform="rotate(-25 70.6 296)" fill="#fff" stroke-width="1.8"/><path d="M195.1,435.8 C195,428 202,424.4 214.4,422.8 L244.6,424.9 C248,425.5 250,427 248.75,429.6 L200.8,457.2 C198.5,457.8 197,457 196.5,455 L194.6,444.2 Z" fill="#fff" stroke-width="1.6"/><path d="M197,437 L197.5,452" stroke-width="2.2"/><path d="M215,452 C222,452 229,449 230.5,445" /><path d="M248.75,429.6 L200.8,457.2" fill="none"/><path d="M244.5,427 L201.5,452" stroke-width="1.2"/><ellipse cx="213.3" cy="434.5" rx="14.6" ry="8.6" fill="#fff" stroke-width="1.4"/><path d="M202,438.5 C205,436 209,435.6 213,435.6 C218,435.6 222.5,436.5 225,438.5" stroke-width="1.1"/><path d="M227.4,425.9 L243.5,427.5 L231,435.3 C230,432 229,428.5 227.4,425.9 Z" stroke-width="1.3"/><path d="M199.8,441.6 L215.4,444.7 L201.9,452 Z" stroke-width="1.3"/><ellipse cx="213.5" cy="478" rx="19.4" ry="11.5" fill="#fff" stroke-width="1.5"/><path d="M194.3,479 C195,486 203,490 213.5,490 C224,490 232,486 232.8,479" stroke-width="1"/><ellipse cx="213.5" cy="477.5" rx="13.5" ry="6.8" stroke-width="1.5"/><path d="M201,476 C203,472.5 207,471.2 213.5,471.2 C220,471.2 224,472.5 226,476" stroke-width="0.9"/><ellipse cx="213.9" cy="513.4" rx="22.8" ry="12.6" fill="#fff" stroke-width="1.5"/><path d="M191.3,514.5 C192,522 202,527 213.9,527 C226,527 236,522 236.6,514.5" stroke-width="1"/><ellipse cx="214" cy="513.4" rx="13.9" ry="8" stroke-width="1.5"/><path d="M201,511 C203,507.5 207,506.5 214,506.5 C221,506.5 225,507.5 227,511" stroke-width="0.9"/><path d="M196.5,567 L196.5,589 C197,592 204,594 213.3,594 C222,594 229.5,592 230,589 L230,567" fill="#111" stroke-width="1.5"/><line x1="199.0" y1="572" x2="199.0" y2="591" stroke="#fff" stroke-width="0.8"/><line x1="202.5" y1="572" x2="202.5" y2="591" stroke="#fff" stroke-width="0.8"/><line x1="206.0" y1="572" x2="206.0" y2="591" stroke="#fff" stroke-width="0.8"/><line x1="209.5" y1="572" x2="209.5" y2="591" stroke="#fff" stroke-width="0.8"/><line x1="213.0" y1="572" x2="213.0" y2="591" stroke="#fff" stroke-width="0.8"/><line x1="216.5" y1="572" x2="216.5" y2="591" stroke="#fff" stroke-width="0.8"/><line x1="220.0" y1="572" x2="220.0" y2="591" stroke="#fff" stroke-width="0.8"/><line x1="223.5" y1="572" x2="223.5" y2="591" stroke="#fff" stroke-width="0.8"/><line x1="227.0" y1="572" x2="227.0" y2="591" stroke="#fff" stroke-width="0.8"/><path d="M192.7,550.2 L192.7,564 C193,570 202,574 213.3,574 C224,574 233.5,570 233.9,564 L233.9,550.2" fill="#fff" stroke-width="1.5"/><ellipse cx="213.3" cy="550.2" rx="20.6" ry="12.5" fill="#fff" stroke-width="1.5"/><ellipse cx="213.3" cy="550.8" rx="18" ry="10.5" stroke-width="1"/><ellipse cx="213.3" cy="551.5" rx="15.2" ry="8.6" fill="#111" stroke-width="1"/><path d="M200,547 L207,545.5 L208,551 L201,553 Z M215,544 L224,545 L223,549.5 L215,548.5 Z M215,553 L226,551 L226,555 L216,557 Z" fill="#fff" stroke="none"/><line x1="210" y1="543" x2="210" y2="558" stroke="#fff" stroke-width="1.2"/><g stroke-width="0.9" stroke-dasharray="14 2.5 2 2.5"><line x1="213.6" y1="426" x2="213.6" y2="548"/></g><path d="M200.8,646 C200.5,642 204,639.5 207.5,639.5 C211.5,639.5 214.5,642 214.5,645.5 L214.2,648.5 C213.8,651.5 211,652.6 207.8,652.6 C204,652.6 201.3,651 201,648.5 Z" fill="#111" stroke-width="1.2"/><path d="M203,643.5 C204,645.5 206,646.3 208,646.3 C210,646.3 212,645.5 213,643.5" stroke="#fff" stroke-width="1.1"/><path d="M203.5,648.8 C205,650 206.5,650.3 208,650.3 C209.5,650.3 211,650 212,649" stroke="#fff" stroke-width="1.1"/><rect x="205.2" y="624.6" width="8.3" height="18" fill="#fff" stroke-width="1.6"/><rect x="205.2" y="632.7" width="8.3" height="10.5" fill="#111" stroke="none"/><path d="M207,636.5 L207,640 M209.3,636.5 L209.3,640.5 M211.5,636.5 L211.5,640" stroke="#fff" stroke-width="0.7"/><path d="M210.8,650.5 C210.5,646.5 214.5,644.2 219.2,644.2 C224,644.2 227.8,646.5 227.8,650.5 L227.5,653.5 C227,656.5 223.5,657.8 219.2,657.8 C214.5,657.8 211.3,656.5 211,653.5 Z" fill="#111" stroke-width="1.2"/><path d="M212.8,648 C214,650.5 216.5,651.5 219.3,651.5 C222,651.5 225,650.5 226,648" stroke="#fff" stroke-width="1.2"/><path d="M213.5,654.2 C215,655.6 217,656 219.3,656 C221.5,656 223.8,655.6 225.5,654.2" stroke="#fff" stroke-width="1.1"/><rect x="214.5" y="620.7" width="8.9" height="26" fill="#fff" stroke-width="1.6"/><rect x="214.5" y="637.9" width="8.9" height="9.4" fill="#111" stroke="none"/><path d="M216.5,642 L216.5,645.5 M218.9,642 L218.9,646 M221.3,642 L221.3,645.5" stroke="#fff" stroke-width="0.7"/><path d="M221,678 L229,677.2 C234,677 236.5,681 236.2,686 C236,691 233,694 229,693.8 L222.5,693" fill="#111" stroke-width="1.4"/><path d="M223.5,679 C225.5,682 225.5,689 224,692 M226,678.5 C228,682 228,689 226.5,692.5 M228.2,678 C230,681 230,688 229,692" stroke="#fff" stroke-width="0.8"/><ellipse cx="231.2" cy="687" rx="2.6" ry="3.6" transform="rotate(15 231.2 687)" fill="#fff" stroke="none"/><rect x="213" y="674" width="11.2" height="17" fill="#fff" stroke-width="1.5"/><path d="M214,682.3 L223.6,677.8 M214,682.3 L221,688.7" stroke-width="1.1"/><path d="M212,666 L212,674.5 C212.5,676.3 215.5,676.8 218.8,676.8 C222,676.8 225,676.3 225.5,674.5 L225.5,666 Z" fill="#111" stroke-width="1.3"/><ellipse cx="218.8" cy="665.8" rx="6.8" ry="3.2" fill="#111" stroke-width="1.3"/><ellipse cx="218.7" cy="666.8" rx="4.2" ry="1.9" fill="#fff" stroke="none"/><path d="M213.5,670.5 C215,671.5 222,671.5 224,670.5 M213.8,673 C215,674 222,674 224,673" stroke="#fff" stroke-width="0.7"/><rect x="214.3" y="690" width="9.3" height="6.4" fill="#fff" stroke-width="1.3"/><path d="M209.8,697.5 C209.8,695 213.5,693.8 218.9,693.8 C224.5,693.8 228,695 228,697.5 L228,703.5 C227.5,706.5 224,707.5 218.9,707.5 C213.5,707.5 210.3,706.5 209.8,703.5 Z" fill="#111" stroke-width="1.3"/><path d="M212.7,701 L216,700 L222,700 L226.8,701 L226.3,705 L222,706 L216,706 L213.2,705 Z" fill="#fff" stroke="none"/><path d="M216,700 L216,706 M222,700 L222,706" stroke-width="0.8"/><ellipse cx="219" cy="715.3" rx="7.2" ry="4.4" fill="#111" stroke-width="1"/><ellipse cx="216.2" cy="715.2" rx="1.7" ry="2" fill="#fff" stroke="none"/><ellipse cx="221.8" cy="715.2" rx="1.7" ry="2" fill="#fff" stroke="none"/><path d="M199.5,749.5 C199.5,746 203.5,743.8 208.4,743.8 C213.5,743.8 217.4,746 217.4,749.5 L217.2,753.5 C216.5,757 213,758.6 208.4,758.6 C203.8,758.6 200.3,757 199.8,753.5 Z" fill="#111" stroke-width="1.2"/><path d="M201.7,747.5 C203,750 205.5,751 208.5,751 C211.5,751 214,750 215.2,747.5" stroke="#fff" stroke-width="1.2"/><path d="M202.5,753.8 C204,755.4 206,756 208.5,756 C211,756 213,755.4 214.5,753.8" stroke="#fff" stroke-width="1.1"/><path d="M204.1,746 L204.1,718.4 L212.7,722.7 L212.7,746 Z" fill="#fff" stroke-width="1.6"/><rect x="204.1" y="738.3" width="8.6" height="9" fill="#111" stroke="none"/><path d="M206,741.5 L206,745.5 M208.4,741.5 L208.4,746 M210.8,741.5 L210.8,745.5" stroke="#fff" stroke-width="0.7"/></g>
<g fill="none" stroke="#7d7d7d" stroke-width="1.15" stroke-linejoin="round" stroke-linecap="round">
<path d="M202.3,872.5 C201,885 200,898 199.7,905 C198,918 196.5,931 196.3,940 C196,948 195.8,952 195.8,954.3 C196,961 205,964.7 214.7,964.7 C225,964.7 233.5,961 233.5,954.3 C233.5,945 233,935 232.2,924.4 C231,913 229.6,898.4 228.3,872.5"/><path d="M200.4,858 L200.6,866.5 C201,871 207,873.8 214.7,873.8 C222,873.8 228.5,871 228.8,866.5 L229,858"/><ellipse cx="214.7" cy="856.4" rx="14.3" ry="8.6"/><path d="M200.6,862 C201.5,867 207,869.8 214.7,869.8 C222,869.8 228,867 228.8,862"/><ellipse cx="225.2" cy="939.3" rx="8.3" ry="11" transform="rotate(20 225.2 939.3)"/><ellipse cx="225.8" cy="939.5" rx="6.3" ry="8.8" transform="rotate(20 225.8 939.5)"/><path d="M222,941 l8,-5 M221,938 l8,-5" stroke-width="1.3"/><path d="M213,855.5 l5,-2.5 M220.5,888 l4,-2" stroke-width="1.6"/><ellipse cx="276.6" cy="912.6" rx="14.5" ry="7.8"/><path d="M262.1,912.8 C263,930 264,945 265.5,958.4 C266.5,962 271,963.5 276,963.5 C281,963.5 285.5,962 286.4,958.4 C287.5,945 289.5,930 291.1,912.8"/><ellipse cx="283" cy="933.5" rx="7.5" ry="9.5" transform="rotate(35 283 933.5)"/><ellipse cx="284" cy="934" rx="5.5" ry="7" transform="rotate(35 284 934)"/><path d="M279.5,937 l8,-6" stroke-width="1.3"/><path d="M327.4,945.8 L327.4,820 Q327.4,817.8 330,816.3 L350.5,804.8 Q353.4,803.2 356.3,805 L377.5,817.6 Q380.6,819.6 378,821.5 L357,833.5 Q354.6,834.8 352,833.4 L330,820.5"/><path d="M328.7,822.5 L352.5,836 Q354.6,837 357,835.8"/><path d="M354.1,836 L354.1,958 M327.4,945.8 L354.1,960"/><path d="M325.8,848 Q323.5,852.5 325.8,857.4"/><path d="M357.7,871 L357.7,840 Q357.3,837.6 360,836 L380,822.3 Q383.1,820.5 386.5,822.2 L407,833.5 Q409.7,835.1 409.7,838 L409,869 Q409,871 407,872.5 L386,884.3 Q383.1,885.5 380.5,884 L360,873 Q357.7,872 357.7,871 Z" fill="#fff"/><path d="M357.5,840 L382,851 Q386.8,853 391,850.5 L409.5,838"/><path d="M358.5,843 L382.5,854.5 Q386.8,856 390.5,854 L409,842"/><path d="M384.3,854 L384.3,884.3"/><path d="M389.3,855 L389.3,880.3 L406.5,870 L407.2,845.5"/><ellipse cx="399.2" cy="862" rx="4.6" ry="5.8" transform="rotate(-20 399.2 862)"/><ellipse cx="399.2" cy="862" rx="3.2" ry="4.3" transform="rotate(-20 399.2 862)"/><path d="M395.5,872 L396,876 M398.5,870 L399,875 M394,877 l5.5,-3" stroke-width="1"/><path d="M377,834 l5,-2.2" stroke-width="1.8"/><path d="M365.8,882.5 L365.3,945 M401.6,870 L402.4,945"/><path d="M365.3,945 C365,951 373,955 383.8,955 C394,955 402,951 402.4,945 M365.3,949 C366,955 373,958.5 383.8,958.5 C394,958.5 401.8,955 402.4,949 M365.5,952.5 C366,958.5 373,962 383.8,962 C394,962 401.5,958.5 402,952.5 M365.5,956 L365.5,962 M402,956 L402,962"/><path d="M365.5,962 C366,966 374,969 383.8,969 C393,969 401.5,966 402,962"/><path d="M357.7,958 L357.7,962 Q358,964 360,965.5 L386,977 Q389,978.3 392,976.5 L409,966 Q411,964.5 410.5,962 L410,958.5 Q409.5,956.5 407,955.3 L403,953.5"/><path d="M358.5,959 L386.5,972.5 Q389,973.5 391.5,972 L409.5,960.5"/><path d="M431.4,936.3 L431.4,829 Q431.4,827.2 434,825.7 L450.7,816 Q453.6,814.6 456.5,816.2 L473.6,826 Q476.6,827.9 474,829.9 L457.5,839 Q455.1,840.3 452.5,839 L432.5,828.8"/><path d="M432,831.5 L453,842.5 Q455.1,843.3 457,842.5"/><path d="M455.1,842 L455.1,946.5 M431.4,936.3 L455.1,947.7"/><path d="M429.8,856 Q427.5,860 429.8,864"/><path d="M456.8,871.5 L456.5,845 Q456.5,842.2 459,840.7 L476.5,830.5 Q479.4,829.2 482.3,830.8 L498,840.2 Q500.9,842.3 498,844 L482,853.8 Q479.4,855.2 476.8,853.8 L457.5,844" fill="#fff"/><path d="M457.2,871.6 Q457.5,873 459,873.8 L476,882 Q478,882.8 480,882"/><path d="M479.1,856 L479.1,882.3"/><path d="M457.2,847 L477,857 Q479.4,858 481,857.3"/><path d="M463.7,873.8 L463.7,940 M489.4,878 L489.4,902"/><path d="M463.7,940 C464,946 470,949 476.5,949 C483,949 488.5,946 488.8,940 M463.7,944 C464,950 470,953 476.5,953 C483,953 488.5,950 488.8,944 M463.8,948 C464.5,954 470,957 476.5,957 C483,957 488.5,954 488.8,948 M464,951 L464,955 C465,959 470,961 476.5,961 C483,961 488.5,959 488.8,955"/><path d="M482.3,888 L482.3,861 Q482.3,858 485,856.5 L500.3,845.2 Q503.1,843.6 506,845.2 L524,855.6 Q526.7,857.3 526.7,860 L527.4,882.5 Q527.4,885.2 525,886.6 L508,896 Q505.2,897.5 502.5,896 L485,889.5 Q482.3,888.8 482.3,888 Z" fill="#fff"/><path d="M482.5,861.5 L503.5,871.2 Q506.6,872.6 509.5,871 L526.6,860.5"/><path d="M483,864.5 L503.5,874.5 Q506.6,875.8 509.5,874 L526.8,864"/><path d="M505.2,873 L505.2,896.7"/><path d="M509,876 L509,894 L525,885 L525.5,866"/><ellipse cx="517.8" cy="880.2" rx="4.5" ry="5.6" transform="rotate(-20 517.8 880.2)"/><ellipse cx="517.8" cy="880.2" rx="3.1" ry="4.1" transform="rotate(-20 517.8 880.2)"/><path d="M498,857.5 l5,-2.5" stroke-width="1.8"/><path d="M489.4,896 L489.4,952 M518.8,885 L520,952"/><path d="M489.4,952 C489.5,958 496,961.5 504.5,961.5 C513,961.5 519.8,958 520,952 M489.4,956 C489.5,962 496,965 504.5,965 C513,965 519.8,962 520,956 M489.5,959.5 C490,965.5 496,968.5 504.5,968.5 C513,968.5 519.8,965.5 520,959.5 M489.5,962 L489.5,966.7 C490,970 496,972 504.5,972 C513,972 519.5,970 520,966.7"/><path d="M456.3,945.5 L456.5,950 Q457,952 459,953 L486,970.8 Q489.6,972.8 493,971 L525.5,963 Q528,961.5 527.6,959 L527,955.5 Q526.5,953.5 523.5,952.8 L520,951.5"/><path d="M457,947.5 L486.5,966 Q489.6,967.7 492.5,966.5 L527.4,955.5"/><path d="M548.2,831.5 L567,822.6 Q569,821.8 571,822.8 L577.5,827.5 Q579,829 578.7,831 L578.7,847 Q578.5,849 576.8,850 L559.5,859 Q558,859.8 557.5,858 L548.5,853 Q547.5,852.5 547.5,851 L547.6,833 Q547.6,832 548.2,831.5 Z" fill="#fff"/><path d="M548.2,831.5 L557,837.5 Q558.5,838.5 560,838 L578.5,829.5 M558.2,838.3 L558.2,859"/><path d="M561,843 L575.5,836.3 L575.5,846.5 L561,853.5 Z M563.5,845 L573,840.5 L573,845 L563.5,849.5 Z"/><path d="M551,829.5 L568,821.5 M552.5,832.5 L569,824.5" /><path d="M557,856 L557.5,861 L562,861 L564,858 M571,851.5 L571.5,856 L576,854 L578.7,849"/><path d="M566.3,853 C568,858 571,861 576,862.5 C585,865 596,869 606,871 C615,873 621,873.6 624,878 C626,881 626.5,884 626,888" stroke-width="1.1"/><ellipse cx="579.9" cy="874.8" rx="11.4" ry="6.2" fill="#fff"/><path d="M575.5,872 Q575.5,869.5 578,869.5 L582,869.5 Q584.5,869.5 584.5,872 L584.5,877.5 Q584.5,879.5 582,879.5 L578,879.5 Q575.5,879.5 575.5,877.5 Z" fill="#aaa" stroke="#666"/><path d="M568.5,874.8 L568.5,887.2 C569,890 574,891.5 579.9,891.5 C586,891.5 591,890 591.3,887.2 L591.3,874.8"/><path d="M568.5,888 C566,889 564.7,891 564.7,893 L564.7,906 C565,910 572,912.5 579.5,912.5 C587,912.5 594,910 594.4,906 L594.4,893 C594.4,891 593,889 591.3,888"/><path d="M564.7,897 C566,901 572,903.3 579.5,903.3 C587,903.3 593,901 594.4,897 M564.9,901 C566,905.5 572,908 579.5,908 C587,908 593,905.5 594.2,901"/><path d="M578,895.5 L579.6,891.5 L581.2,895.5 Z M577.5,897 L581.5,897 L581.5,900 L577.5,900 Z" fill="#999"/><path d="M562.2,906 L562.2,960 M598.5,906 L598.5,960"/><path d="M562.2,955 C563,960 570,963 580.4,963 C591,963 598,960 598.5,955 M562.2,960 C563,965 570,967.5 580.4,967.5 C591,967.5 598,965 598.5,960 M562.5,963 L563,968 C564,972 571,973.5 580.4,973.5 C590,973.5 597,972 598,968 L598.3,963"/><path d="M568.5,880 L545.5,889 Q543,890 543,893 L543.2,903 Q543.5,906.5 546.5,908 L562.3,913.5"/><path d="M545.5,889 L549.5,893.5 L568.5,886 M549.5,893.5 L549.5,906 M552,895.5 L552,903.5 L565,898.5 L565,891 M555,897.5 L560,893 M556,901 L563,894"/><path d="M562.3,903 L566.5,901.5 L571,904 L571,911 L567,914.4 L562.3,912.5 Z" fill="#fff"/><ellipse cx="566.6" cy="907.8" rx="2.6" ry="3.3" stroke-width="1.3"/><path d="M591.3,886.5 L600,888 Q606,889.5 608,893 L609.3,900 L604,904.5 L596,902 L593,897" fill="#fff"/><path d="M594,889 L597,899 M597,889 L600,900 M600,889.5 L603,901 M603,890 L606,901" stroke="#777" stroke-width="1.4"/><path d="M598,895 C600,898 603,900 605.6,904.5 L605.6,925 M600.6,902 L600.6,925"/><path d="M600.6,912 L605.6,912 M600.6,915 L605.6,915" /><path d="M600.6,925 L600.6,938 L607.6,938 L607.6,925 M601,941 L601,962 L607.6,962 L607.6,941"/><path d="M600,962 L599,968 Q600,971.6 604,971.6 Q608,971.6 608.6,968 L608,962 M600,965 L608.4,965"/><path d="M608,889 L614,888.5 Q620,887.5 625,888.5 Q629,890 629,896 L629,905 Q628.5,909 625,909.5 L615,910 L610,907 L608,900 Z" fill="#fff"/><ellipse cx="619" cy="896" rx="7" ry="6.5" fill="#bbb" stroke="#666" stroke-width="1.3"/><path d="M613,893 l12,6 M614,897 l9,5 M615,890 l10,5 M617,889 l2,13 M621,889 l-1,13" stroke="#666" stroke-width="0.9"/><path d="M610,900 L616,899 L616,908 L610,909 Z M618,902 L624,902 L624,909 L618,909"/><path d="M707,811 L728,802.8 Q731,801.8 733,803 L743,810 Q744.7,811.5 744.7,814 L744.7,831 Q744.5,833.5 742,834.8 L720.5,845.5 Q718,846.8 716,845.5 L708,840 Q706.7,839 706.7,837 L706.7,813 Q706.7,811.8 707,811 Z" fill="#fff"/><path d="M707,811 L716,817.5 Q718,818.8 720,818 L744.5,810.5 M717.5,818.5 L717.5,846"/><path d="M722,825 L738.5,818 L738.5,830 L722,837.5 Z M724,828 L735.5,823 L735.5,829 L724,834 Z"/><ellipse cx="740.5" cy="819.5" rx="1.2" ry="1.6"/><ellipse cx="740.5" cy="825" rx="1.2" ry="1.6"/><path d="M711,809 L727,801.5 Q729,800.5 731,801.5 L733,803"/><path d="M714,843 L714.5,848 L720,848 L722,845 M738,835 L739,840 L744,838 L745,832"/><ellipse cx="692.6" cy="855.5" rx="14.4" ry="8.3" fill="#fff"/><path d="M686.5,853 Q686.5,851.6 688,851.6 L698.5,851.6 Q700.3,851.6 700.3,853 L700.3,862 Q700.3,863.8 698.5,863.8 L688,863.8 Q686.5,863.8 686.5,862 Z" fill="#999" stroke="#666"/><path d="M689,855 L698,855 L698,859 L689,859 Z" fill="#ddd" stroke="none"/><path d="M678.2,855.5 L678.2,870 C679,873 685,874.3 692.6,874.3 C700,874.3 706.5,873 707,870 L707,855.5"/><path d="M678.2,871 C675,873 672.7,876 672.7,879 L672.7,900 C673.5,905 682,908 692.5,908 C703,908 711,905 711.4,900 L711.4,879 C711.4,876 709,873 707,871"/><path d="M672.7,886.5 C674,891 682,894 692.5,894 C703,894 710.5,891 711.4,886.5 M672.7,898 C674,903 682,905.5 692.5,905.5 C703,905.5 710.5,903 711.4,898 M672.8,901.5 C674,906.5 682,909.5 692.5,909.5 C703,909.5 710.5,906.5 711.3,901.5"/><path d="M690.6,878.5 L692.6,873.5 L694.6,878.5 Z M690,880 L695,880 L695,884 L690,884 Z" fill="#999"/><path d="M674.4,906 L674.4,960 M710.5,906 L710.5,960"/><path d="M674.4,960 C675,965 683,968 692.5,968 C702,968 710,965 710.5,960"/><path d="M678.2,862 L652,872 Q649.7,873 649.8,876 L650,886 Q650.5,889.5 653,891 L671.6,897"/><path d="M652,872 L657,877 L678.2,869 M657,877 L657,892 M660,879 L660,888 L674,883 L674,874 M663,884 L669,876 M665,886 L672,878"/><path d="M671.6,891 L676.5,888.6 L682.6,891 L682.6,898 L677.5,900.8 L671.6,898 Z" fill="#fff"/><ellipse cx="677.2" cy="894.5" rx="3.2" ry="3.8" stroke-width="1.3"/><path d="M707,872 L716,874 Q722,876 724.7,880 L722,885.4 L712,884 L708,879" fill="#fff"/><path d="M711,874 L713,883 M714,874.5 L716,884 M717,875.5 L719,884.5 M720,877 L721.5,885" stroke="#777" stroke-width="1.4"/><path d="M715.8,884 L715.8,904 M723.6,884 L723.6,904 M715.8,896 L723.6,896 M715.8,900 L723.6,900"/><path d="M715.3,904 L715.3,922 L722.9,922 L722.9,904 M715.3,928 L715.3,955 L722.9,955 L722.9,928"/><path d="M714.5,955 L713.5,963 Q714,966.7 719,966.7 Q724,966.7 724.3,963 L723.5,955 M714,959 L724,959"/></g>
<!-- TABLE -->
<g fill="none" stroke="#111" stroke-width="2">
  <polyline points="183,979 183,801.5 310,801.5"/>
  <line x1="247" y1="801.5" x2="247" y2="979"/>
  <polyline points="310,979 310,731.5 754,731.5 754,979"/>
  <line x1="421.2" y1="731.5" x2="421.2" y2="979"/>
  <line x1="532.5" y1="731.5" x2="532.5" y2="979"/>
  <line x1="643.4" y1="731.5" x2="643.4" y2="979"/>
  <line x1="182" y1="979" x2="755" y2="979"/>
</g>
<g stroke="#333" stroke-width="1.4">
  <line x1="189" y1="822.5" x2="237.5" y2="822.5"/>
  <line x1="254" y1="821.5" x2="302" y2="821.5"/>
  <line x1="321" y1="756.3" x2="419.5" y2="756.3"/>
  <line x1="429" y1="755.6" x2="527.5" y2="755.6"/>
  <line x1="538.5" y1="761.6" x2="637.8" y2="761.6"/>
  <line x1="538.5" y1="792.8" x2="637.8" y2="792.8"/>
  <line x1="537.8" y1="818.6" x2="636" y2="818.6"/>
  <line x1="650.2" y1="758" x2="747.8" y2="758"/>
</g>
<g font-size="21" fill="#111">
  <text x="208.8" y="820.2">8</text>
  <text x="271.5" y="819.6">9</text>
  <text transform="translate(352.8,753.4) scale(0.93,1)">10</text>
  <text transform="translate(462.2,751.9) scale(0.88,1)">11</text>
  <text transform="translate(265,890.5) scale(0.97,1)">6x</text>
  <text transform="translate(537.7,753.8) scale(0.964,1)">12 (S-Size)</text>
  <text transform="translate(536,782.3) scale(0.974,1)">13 (Mg+Zn)</text>
  <text transform="translate(537.2,813.7) scale(0.973,1)">14 (U-Safe)</text>
  <text transform="translate(660.9,749.3) scale(0.962,1)">15 (AC)</text>
</g>
</svg>
</body></html>
